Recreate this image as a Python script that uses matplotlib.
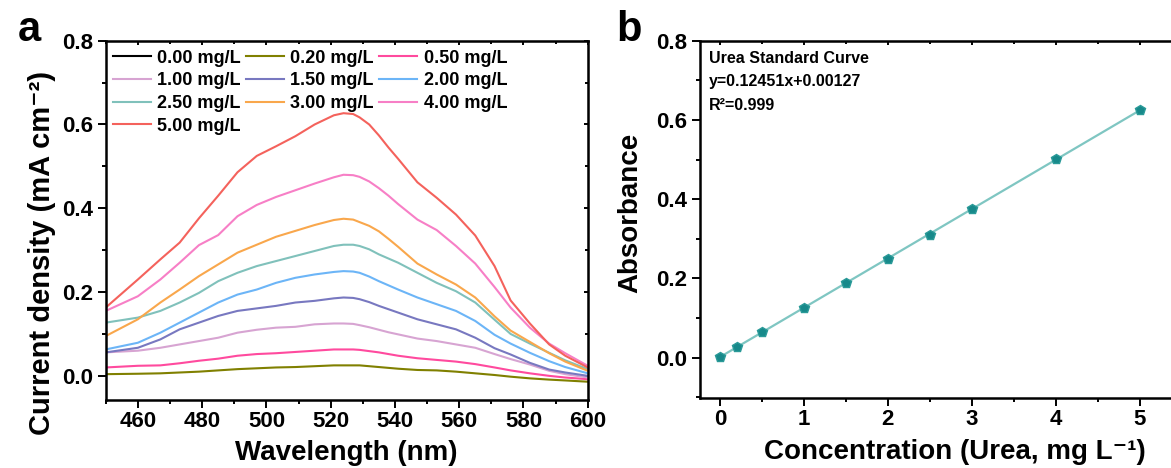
import matplotlib
matplotlib.use("Agg")
import matplotlib.pyplot as plt
from matplotlib.ticker import MultipleLocator

plt.rcParams['font.family'] = ['Liberation Sans', 'DejaVu Sans']
plt.rcParams['font.weight'] = 'bold'

# UV-vis spectra of the urea standards
wavelength = [450, 460, 467, 473, 479, 485, 491, 497, 503, 509, 515, 521, 524, 527,
              529, 532, 535, 538, 541, 547, 553, 559, 565, 571, 576, 582, 588, 593, 600]

conc_labels = ['0.00 mg/L', '0.20 mg/L', '0.50 mg/L', '1.00 mg/L', '1.50 mg/L',
               '2.00 mg/L', '2.50 mg/L', '3.00 mg/L', '4.00 mg/L', '5.00 mg/L']
colors = ['#000000', '#808000', '#ff4a9e', '#d7a4d2', '#7878c0',
          '#6cb5f7', '#80c1bb', '#f9a74c', '#f77fc6', '#f4625c']

c000 = []  # blank, hidden under the other traces
c020 = [0.004, 0.005, 0.006, 0.008, 0.010, 0.013, 0.016, 0.018, 0.020, 0.021, 0.023, 0.025, 0.025, 0.025,
        0.025, 0.023, 0.021, 0.019, 0.017, 0.014, 0.013, 0.010, 0.006, 0.002, -0.002, -0.006, -0.009, -0.011, -0.014]
c050 = [0.020, 0.024, 0.025, 0.030, 0.036, 0.041, 0.048, 0.052, 0.054, 0.057, 0.060, 0.063, 0.063, 0.063,
        0.062, 0.059, 0.056, 0.052, 0.048, 0.042, 0.038, 0.034, 0.028, 0.020, 0.013, 0.006, 0.000, -0.004, -0.008]
c100 = [0.056, 0.060, 0.067, 0.075, 0.083, 0.091, 0.103, 0.110, 0.115, 0.117, 0.123, 0.125, 0.125, 0.124,
        0.121, 0.116, 0.110, 0.104, 0.099, 0.089, 0.083, 0.075, 0.067, 0.052, 0.040, 0.027, 0.012, 0.004, -0.004]
c150 = [0.056, 0.067, 0.087, 0.111, 0.127, 0.143, 0.155, 0.161, 0.167, 0.175, 0.179, 0.185, 0.187, 0.186,
        0.183, 0.176, 0.167, 0.159, 0.151, 0.135, 0.123, 0.111, 0.091, 0.066, 0.051, 0.031, 0.015, 0.008, 0.000]
c200 = [0.063, 0.079, 0.103, 0.127, 0.151, 0.175, 0.194, 0.206, 0.222, 0.234, 0.242, 0.248, 0.250, 0.249,
        0.246, 0.237, 0.226, 0.216, 0.206, 0.187, 0.171, 0.155, 0.131, 0.098, 0.077, 0.055, 0.035, 0.021, 0.006]
c250 = [0.127, 0.139, 0.155, 0.175, 0.198, 0.226, 0.246, 0.262, 0.274, 0.286, 0.298, 0.310, 0.313, 0.313,
        0.310, 0.302, 0.290, 0.280, 0.270, 0.246, 0.222, 0.202, 0.175, 0.134, 0.100, 0.077, 0.055, 0.037, 0.016]
c300 = [0.095, 0.135, 0.175, 0.206, 0.238, 0.266, 0.294, 0.313, 0.332, 0.346, 0.360, 0.372, 0.375, 0.373,
        0.367, 0.358, 0.345, 0.327, 0.308, 0.268, 0.242, 0.218, 0.187, 0.142, 0.108, 0.081, 0.054, 0.034, 0.012]
c400 = [0.155, 0.190, 0.230, 0.270, 0.312, 0.336, 0.381, 0.408, 0.427, 0.443, 0.459, 0.474, 0.480, 0.479,
        0.475, 0.464, 0.448, 0.430, 0.410, 0.373, 0.348, 0.310, 0.268, 0.212, 0.163, 0.115, 0.077, 0.054, 0.024]
c500 = [0.163, 0.230, 0.278, 0.318, 0.376, 0.430, 0.486, 0.525, 0.548, 0.572, 0.600, 0.622, 0.627, 0.625,
        0.617, 0.600, 0.574, 0.545, 0.518, 0.462, 0.425, 0.385, 0.335, 0.262, 0.180, 0.125, 0.075, 0.048, 0.020]
spectra = [c000, c020, c050, c100, c150, c200, c250, c300, c400, c500]

# standard curve
std_conc = [0, 0.2, 0.5, 1, 1.5, 2, 2.5, 3, 4, 5]
std_abs = [0.002, 0.026, 0.064, 0.126, 0.188, 0.250, 0.309, 0.375, 0.501, 0.624]
slope, intercept, r2 = 0.12451, 0.00127, 0.999
fit_x = [0, 5]


def style_axes(ax, xmaj, xmin, ymaj, ymin):
    ax.xaxis.set_major_locator(MultipleLocator(xmaj))
    ax.xaxis.set_minor_locator(MultipleLocator(xmin))
    ax.yaxis.set_major_locator(MultipleLocator(ymaj))
    ax.yaxis.set_minor_locator(MultipleLocator(ymin))
    for s in ax.spines.values():
        s.set_linewidth(1.8)
    ax.tick_params(which='both', direction='out', width=1.4, labelsize=16, top=False, right=False)
    ax.tick_params(which='major', length=5.8)
    ax.tick_params(which='minor', length=3)
    ax.tick_params(axis='y', pad=3.5)
    ax.tick_params(axis='x', pad=2)
    # short inward ticks on the top and right frame
    sec_x = ax.secondary_xaxis('top')
    sec_x.xaxis.set_major_locator(MultipleLocator(xmaj))
    sec_x.xaxis.set_minor_locator(MultipleLocator(xmin))
    sec_x.tick_params(which='both', direction='in', width=1.4, labeltop=False)
    sec_x.tick_params(which='major', length=3)
    sec_x.tick_params(which='minor', length=2)
    sec_y = ax.secondary_yaxis('right')
    sec_y.yaxis.set_major_locator(MultipleLocator(ymaj))
    sec_y.yaxis.set_minor_locator(MultipleLocator(ymin))
    sec_y.tick_params(which='both', direction='in', width=1.4, labelright=False)
    sec_y.tick_params(which='major', length=3)
    sec_y.tick_params(which='minor', length=2)


fig = plt.figure(figsize=(11.71, 4.68), dpi=100)
ax1 = fig.add_axes([0.0903, 0.1459, 0.4116, 0.7671])
ax2 = fig.add_axes([0.5978, 0.1489, 0.4065, 0.7641])

# (a) spectra
for vals, lab, col in zip(spectra, conc_labels, colors):
    ax1.plot(wavelength[:len(vals)], vals, color=col, lw=1.5, label=lab)
ax1.set_xlim(450, 600)
ax1.set_ylim(-0.057, 0.8)
style_axes(ax1, 20, 10, 0.2, 0.1)
ax1.set_xlabel('Wavelength (nm)', fontsize=20, fontweight='bold')
ax1.set_ylabel('Current density (mA cm⁻²)', fontsize=21, fontweight='bold')
ax1.xaxis.set_label_coords(0.5, -0.113)
ax1.yaxis.set_label_coords(-0.104, 0.41)

handles, labels = ax1.get_legend_handles_labels()
order = [0, 3, 6, 9, 1, 4, 7, 2, 5, 8]
ax1.legend([handles[i] for i in order], [labels[i] for i in order], ncol=3,
           loc='upper left', bbox_to_anchor=(0.0, 0.995), frameon=False,
           prop={'size': 13, 'weight': 'bold'}, handlelength=2.1, handletextpad=0.35,
           columnspacing=0.3, labelspacing=0.31, borderpad=0.3, borderaxespad=0.1)

# (b) standard curve
ax2.plot(fit_x, [slope * x + intercept for x in fit_x], color='#7fc6c2', lw=1.6, zorder=2)
ax2.plot(std_conc, std_abs, ls='none', marker='p', ms=7, color='#17898a',
         mec='#2a9a98', zorder=3)
ax2.set_xlim(-0.238, 5.435)
ax2.set_ylim(-0.103, 0.8)
style_axes(ax2, 1, 0.5, 0.2, 0.1)
ax2.set_xlabel('Concentration (Urea, mg L⁻¹)', fontsize=20, fontweight='bold')
ax2.set_ylabel('Absorbance', fontsize=20, fontweight='bold')
ax2.xaxis.set_label_coords(0.536, -0.113)
ax2.yaxis.set_label_coords(-0.12, 0.518)

ax2.text(0.019, 0.949, 'Urea Standard Curve', transform=ax2.transAxes,
         fontsize=11.5, fontweight='bold', va='center')
ax2.text(0.019, 0.887, f'y={slope}x+{intercept:.5f}', transform=ax2.transAxes,
         fontsize=11.5, fontweight='bold', va='center')
ax2.text(0.019, 0.820, f'R²={r2}', transform=ax2.transAxes,
         fontsize=11.5, fontweight='bold', va='center')

fig.text(0.015, 0.912, 'a', fontsize=30, fontweight='bold', va='baseline')
fig.text(0.526, 0.912, 'b', fontsize=30, fontweight='bold', va='baseline')

fig.savefig('out.png', dpi=100)
